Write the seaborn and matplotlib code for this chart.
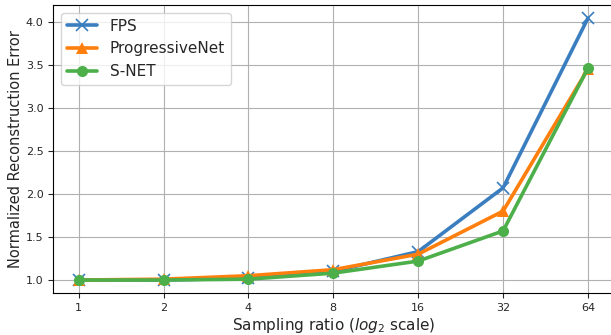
import numpy as np
import pandas as pd
import matplotlib
matplotlib.use("Agg")
import matplotlib.pyplot as plt
import seaborn as sns

ratios = [1, 2, 4, 8, 16, 32, 64]
fps = [1.0, 1.0, 1.02, 1.10, 1.33, 2.07, 4.04]
progressive = [1.0, 1.01, 1.05, 1.12, 1.30, 1.80, 3.45]
snet = [1.0, 1.0, 1.01, 1.08, 1.22, 1.57, 3.46]

methods = ["FPS", "ProgressiveNet", "S-NET"]
markers = {"FPS": "x", "ProgressiveNet": "^", "S-NET": "o"}
colors = {"FPS": "#3a7ebf", "ProgressiveNet": "#ff7f0e", "S-NET": "#4daf4a"}

df = pd.DataFrame({
    "ratio": ratios * 3,
    "error": fps + progressive + snet,
    "method": [m for m in methods for _ in ratios],
})

sns.set_style("ticks")
plt.rcParams['font.family'] = ['DejaVu Sans']

fig, ax = plt.subplots(figsize=(6.11, 3.35), dpi=100)
fig.subplots_adjust(left=0.087, right=1.004, top=0.985, bottom=0.125)

for m in methods:
    sub = df[df["method"] == m]
    sns.lineplot(data=sub, x="ratio", y="error", ax=ax, label=m,
                 color=colors[m], marker=markers[m], markersize=8,
                 linewidth=2.6, markeredgecolor=colors[m],
                 markeredgewidth=1.2 if m == "FPS" else 0)

ax.set_xscale("log", base=2)
ax.set_xticks(ratios)
ax.set_xticklabels([str(r) for r in ratios])
ax.minorticks_off()
ax.tick_params(labelsize=8)
ax.grid(True, color="#b0b0b0", linewidth=0.8)
for s in ax.spines.values():
    s.set_color("black")
ax.set_xlabel("Sampling ratio ($log_2$ scale)", fontsize=11, labelpad=2)
ax.set_ylabel("Normalized Reconstruction Error", fontsize=10.5, labelpad=2)
ax.legend(fontsize=11, loc="upper left", frameon=True)

plt.savefig("out.png", dpi=100)
plt.close()
